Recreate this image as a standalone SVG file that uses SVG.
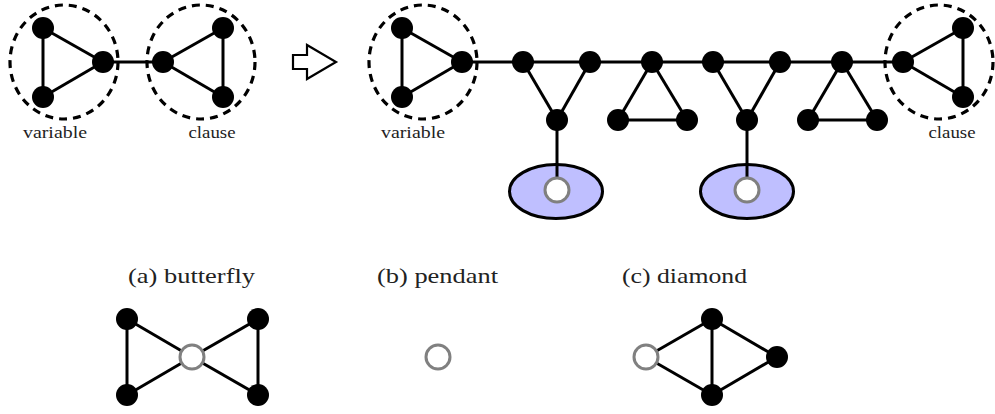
<svg xmlns="http://www.w3.org/2000/svg" width="995" height="414" viewBox="0 0 995 414">
<style>
.e{stroke:#000;stroke-width:3;fill:none}
.n{fill:#000}
.h{fill:#fff;stroke:#808080;stroke-width:3}
.d{fill:none;stroke:#000;stroke-width:3.2;stroke-dasharray:8 6}
.p{fill:#bfbfff;stroke:#000;stroke-width:3}
.t{font-family:"Liberation Serif","DejaVu Serif",serif;fill:#222;text-anchor:middle}
.s{font-size:17px}
.b{font-size:22px}
</style>
<rect width="995" height="414" fill="#fff"/>
<g id="connectors">
  <line class="e" x1="43" y1="28" x2="43" y2="97"/>
  <line class="e" x1="43" y1="28" x2="103" y2="62"/>
  <line class="e" x1="43" y1="97" x2="103" y2="62"/>
  <line class="e" x1="103" y1="62" x2="163" y2="62"/>
  <line class="e" x1="163" y1="62" x2="223" y2="28"/>
  <line class="e" x1="163" y1="62" x2="223" y2="97"/>
  <line class="e" x1="223" y1="28" x2="223" y2="97"/>
  <line class="e" x1="402" y1="28" x2="402" y2="97"/>
  <line class="e" x1="402" y1="28" x2="462" y2="62"/>
  <line class="e" x1="402" y1="97" x2="462" y2="62"/>
  <line class="e" x1="462" y1="62" x2="903" y2="62"/>
  <line class="e" x1="523" y1="62" x2="557" y2="120"/>
  <line class="e" x1="590" y1="62" x2="557" y2="120"/>
  <line class="e" x1="557" y1="120" x2="557" y2="178"/>
  <line class="e" x1="652" y1="62" x2="618" y2="120"/>
  <line class="e" x1="652" y1="62" x2="687" y2="120"/>
  <line class="e" x1="618" y1="120" x2="687" y2="120"/>
  <line class="e" x1="713" y1="62" x2="747" y2="120"/>
  <line class="e" x1="780" y1="62" x2="747" y2="120"/>
  <line class="e" x1="747" y1="120" x2="747" y2="178"/>
  <line class="e" x1="842" y1="62" x2="808" y2="120"/>
  <line class="e" x1="842" y1="62" x2="877" y2="120"/>
  <line class="e" x1="808" y1="120" x2="877" y2="120"/>
  <line class="e" x1="903" y1="62" x2="963" y2="28"/>
  <line class="e" x1="903" y1="62" x2="963" y2="97"/>
  <line class="e" x1="963" y1="28" x2="963" y2="97"/>
  <line class="e" x1="127" y1="319" x2="127" y2="395"/>
  <line class="e" x1="127" y1="319" x2="192" y2="357"/>
  <line class="e" x1="127" y1="395" x2="192" y2="357"/>
  <line class="e" x1="258" y1="319" x2="258" y2="395"/>
  <line class="e" x1="258" y1="319" x2="192" y2="357"/>
  <line class="e" x1="258" y1="395" x2="192" y2="357"/>
  <line class="e" x1="646" y1="357" x2="712" y2="319"/>
  <line class="e" x1="646" y1="357" x2="712" y2="395"/>
  <line class="e" x1="712" y1="319" x2="712" y2="395"/>
  <line class="e" x1="712" y1="319" x2="777" y2="357"/>
  <line class="e" x1="712" y1="395" x2="777" y2="357"/>
</g>
<g id="variable-left">
  <ellipse class="d" cx="64" cy="62" rx="54" ry="57"/>
  <circle class="n" cx="43" cy="28" r="11"/>
  <circle class="n" cx="43" cy="97" r="11"/>
  <circle class="n" cx="103" cy="62" r="11"/>
  <text class="t s" x="55" y="138" textLength="64" lengthAdjust="spacingAndGlyphs">variable</text>
</g>
<g id="clause-left">
  <ellipse class="d" cx="201" cy="62" rx="54" ry="57"/>
  <circle class="n" cx="163" cy="62" r="11"/>
  <circle class="n" cx="223" cy="28" r="11"/>
  <circle class="n" cx="223" cy="97" r="11"/>
  <text class="t s" x="212" y="138" textLength="47" lengthAdjust="spacingAndGlyphs">clause</text>
</g>
<g id="arrow">
  <polygon points="293,55 307,55 307,45 336,62 307,79 307,69 293,69" fill="#fff" stroke="#000" stroke-width="2.2" stroke-linejoin="miter"/>
</g>
<g id="variable-right">
  <ellipse class="d" cx="423" cy="62" rx="54" ry="57"/>
  <circle class="n" cx="402" cy="28" r="11"/>
  <circle class="n" cx="402" cy="97" r="11"/>
  <circle class="n" cx="462" cy="62" r="11"/>
  <text class="t s" x="413" y="138" textLength="64" lengthAdjust="spacingAndGlyphs">variable</text>
</g>
<g id="chain-nodes">
  <circle class="n" cx="523" cy="62" r="11"/>
  <circle class="n" cx="590" cy="62" r="11"/>
  <circle class="n" cx="557" cy="120" r="11"/>
  <circle class="n" cx="652" cy="62" r="11"/>
  <circle class="n" cx="618" cy="120" r="11"/>
  <circle class="n" cx="687" cy="120" r="11"/>
  <circle class="n" cx="713" cy="62" r="11"/>
  <circle class="n" cx="780" cy="62" r="11"/>
  <circle class="n" cx="747" cy="120" r="11"/>
  <circle class="n" cx="842" cy="62" r="11"/>
  <circle class="n" cx="808" cy="120" r="11"/>
  <circle class="n" cx="877" cy="120" r="11"/>
</g>
<g id="pendant-1">
  <ellipse class="p" cx="556" cy="191.5" rx="46.5" ry="27"/>
  <line class="e" x1="557" y1="165" x2="557" y2="178"/>
  <circle class="h" cx="557" cy="190" r="12"/>
</g>
<g id="pendant-2">
  <ellipse class="p" cx="747" cy="191.5" rx="46.5" ry="27"/>
  <line class="e" x1="747" y1="165" x2="747" y2="178"/>
  <circle class="h" cx="747" cy="190" r="12"/>
</g>
<g id="clause-right">
  <ellipse class="d" cx="939" cy="62" rx="54" ry="57"/>
  <circle class="n" cx="903" cy="62" r="11"/>
  <circle class="n" cx="963" cy="28" r="11"/>
  <circle class="n" cx="963" cy="97" r="11"/>
  <text class="t s" x="952" y="138" textLength="47" lengthAdjust="spacingAndGlyphs">clause</text>
</g>
<g id="butterfly">
  <text class="t b" x="191.5" y="283" textLength="127" lengthAdjust="spacingAndGlyphs">(a) butterfly</text>
  <circle class="n" cx="127" cy="319" r="11"/>
  <circle class="n" cx="127" cy="395" r="11"/>
  <circle class="n" cx="258" cy="319" r="11"/>
  <circle class="n" cx="258" cy="395" r="11"/>
  <circle class="h" cx="192" cy="357" r="12"/>
</g>
<g id="pendant">
  <text class="t b" x="437.5" y="283" textLength="121" lengthAdjust="spacingAndGlyphs">(b) pendant</text>
  <circle class="h" cx="438" cy="357" r="12"/>
</g>
<g id="diamond">
  <text class="t b" x="684.5" y="283" textLength="125" lengthAdjust="spacingAndGlyphs">(c) diamond</text>
  <circle class="h" cx="646" cy="357" r="12"/>
  <circle class="n" cx="712" cy="319" r="11"/>
  <circle class="n" cx="712" cy="395" r="11"/>
  <circle class="n" cx="777" cy="357" r="11"/>
</g>
</svg>
